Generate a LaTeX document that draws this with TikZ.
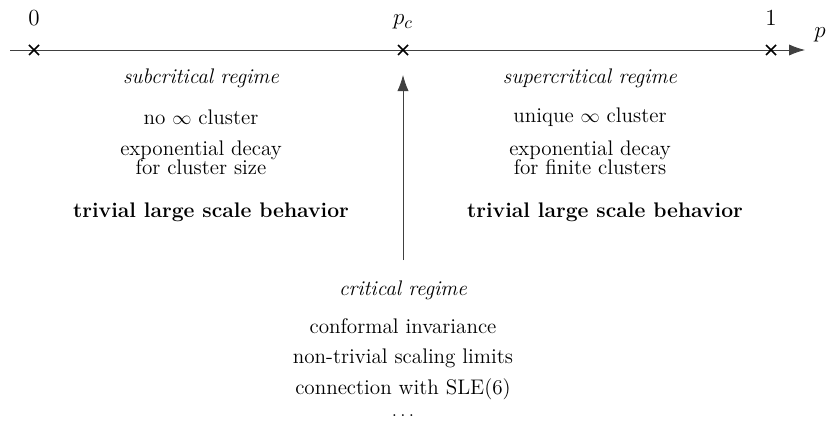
\documentclass[tikz,border=0pt]{standalone}
\usetikzlibrary{arrows.meta}
\begin{document}
\begin{tikzpicture}[x=0.625pt,y=-0.625pt,
  lbl/.style={align=center,inner sep=0pt,font=\fontsize{13.2}{12}\selectfont},
  big/.style={inner sep=0pt,font=\fontsize{15}{15}\selectfont},
  cross/.style={line width=1pt,black},
  axis/.style={draw=black!75,line width=0.5pt}]
\useasboundingbox (0,0) rectangle (827,432);
% axis
\coordinate (start) at (10,50);
\coordinate (end) at (805,50);
\draw[axis,-{Latex[length=10pt,width=7pt]}] (start) -- (end);
\foreach \n/\x in {z/34,c/403,o/771}{
  \coordinate (m\n) at (\x,50);
  \draw[cross] ([shift={(-5,-5)}]m\n) -- ([shift={(5,5)}]m\n);
  \draw[cross] ([shift={(-5,5)}]m\n) -- ([shift={(5,-5)}]m\n);
}
\node[big] (l0) at (34,18) {$0$};
\node[big] (lpc) at (403,22) {$p_c$};
\node[big] (l1) at (771,18) {$1$};
\node[big] (lp) at (820,35) {$p$};
% subcritical
\node[lbl] (sub) at (201,78) {\textit{subcritical regime}};
\node[lbl] (sub1) at (201,117) {no $\infty$ cluster};
\node[lbl] (sub2) at (201,158) {exponential decay\\for cluster size};
\node[lbl] (sub3) at (211,212) {\textbf{trivial large scale behavior}};
% supercritical
\node[lbl] (sup) at (590,78) {\textit{supercritical regime}};
\node[lbl] (sup1) at (590,117) {unique $\infty$ cluster};
\node[lbl] (sup2) at (590,158) {exponential decay\\for finite clusters};
\node[lbl] (sup3) at (605,212) {\textbf{trivial large scale behavior}};
% critical
\coordinate (abot) at (403,260);
\coordinate (atop) at (403,75);
\draw[axis,-{Latex[length=10pt,width=7pt]}] (abot) -- (atop);
\node[lbl] (cr) at (403,290) {\textit{critical regime}};
\node[lbl] (cr1) at (403,326) {conformal invariance};
\node[lbl] (cr2) at (403,358) {non-trivial scaling limits};
\node[lbl] (cr3) at (403,389) {connection with SLE(6)};
\node[lbl] (cr4) at (403,416) {$\ldots$};
\end{tikzpicture}
\end{document}
